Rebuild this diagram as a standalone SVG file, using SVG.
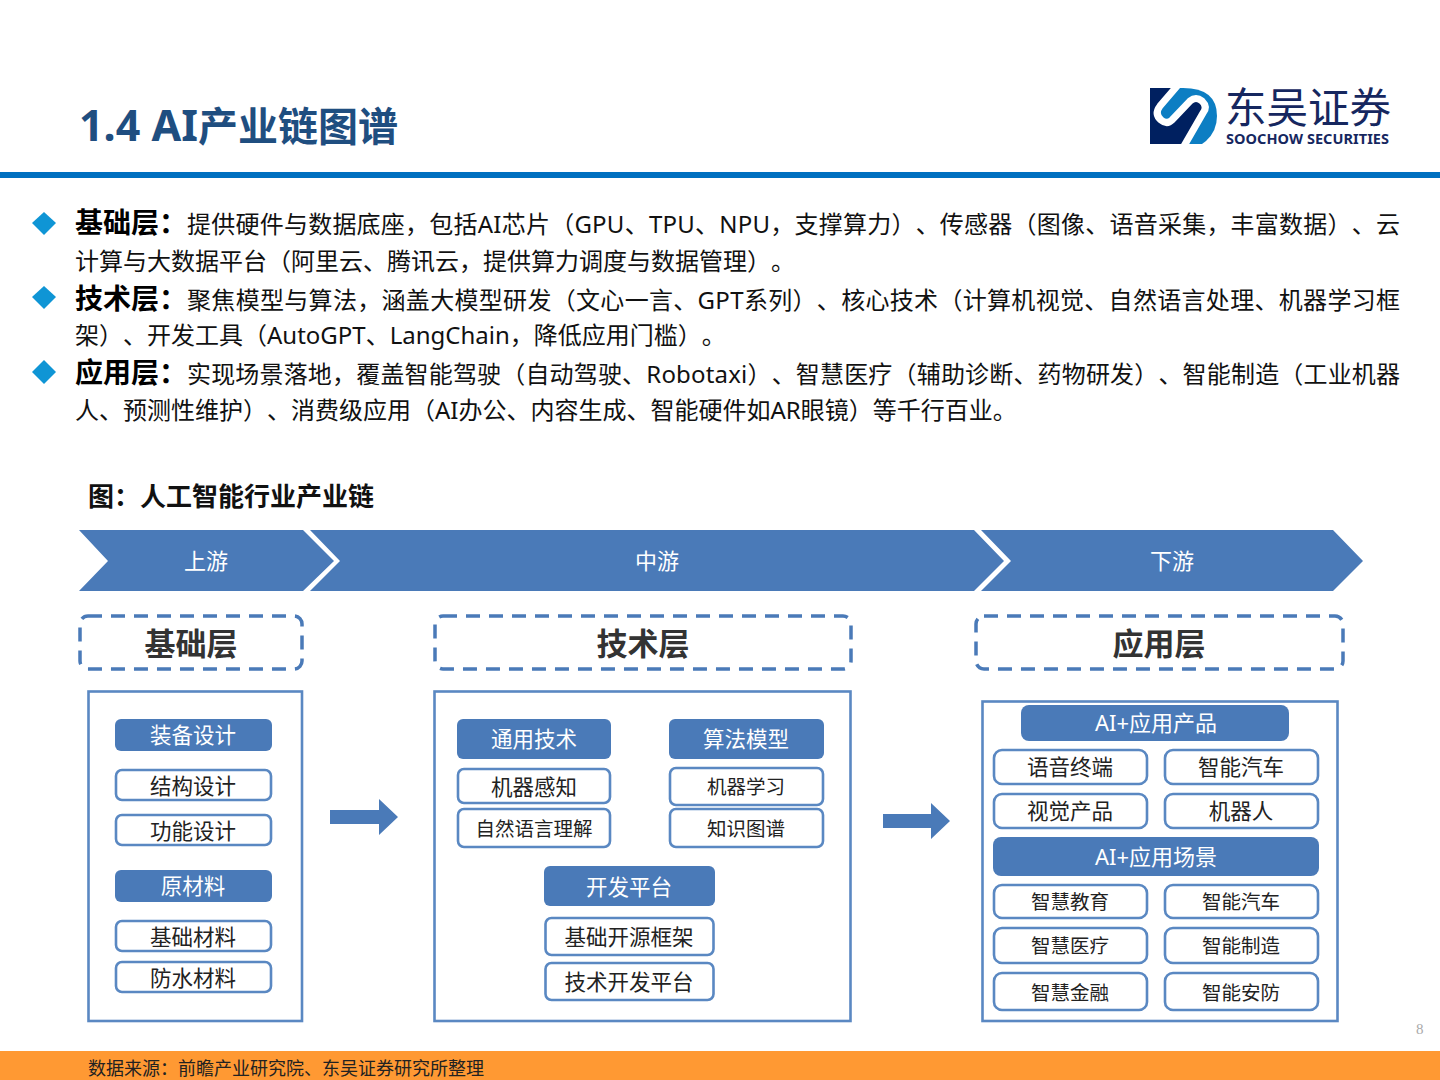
<svg xmlns="http://www.w3.org/2000/svg" width="1440" height="1080" viewBox="0 0 1440 1080">
<style>
text{font-family:"Noto Sans","Noto Sans CJK SC",sans-serif;text-spacing-trim:space-all}
.body{font-size:24px;fill:#111}
.bold{font-size:28px;font-weight:700;fill:#000}
.c{text-anchor:middle}
.head{fill:#4a7ab8}
.box{fill:#fff;stroke:#5a88c2;stroke-width:2.6}
.panel{fill:#fff;stroke:#5a88c2;stroke-width:2.6}
.dash{fill:#fff;stroke:#4a7ab8;stroke-width:3.5;stroke-dasharray:14 9}
.w{fill:#fff;font-size:21.500px}
.s{fill:#fff;font-size:22px}
.k{fill:#222;font-size:21.500px}
.m{fill:#222;font-size:19.500px}
.t{fill:#333;font-size:31px;font-weight:700}
</style>
<rect width="1440" height="1080" fill="#fff"/>
<text x="79" y="141" font-weight="700" fill="#1f4e80"><tspan font-size="43">1.4 AI</tspan><tspan font-size="40">产业链图谱</tspan></text>
<rect y="172" width="1440" height="6" fill="#0070c0"/>
<g id="logo">
<path d="M1150 88H1183Q1217 88 1217 116Q1217 131 1206 141L1202 144H1150Z" fill="#0c7ec3"/>
<path d="M1150 88H1175L1160 106Q1154 114 1161 120Q1167 125 1172 120L1190 101Q1196 96 1202 101Q1208 107 1203 113L1184 144H1150Z" fill="#002060"/>
<path d="M1178 85L1160 106Q1154 114 1161 120Q1167 125 1172 120L1190 101Q1196 96 1202 101Q1208 107 1203 113L1184 146" fill="none" stroke="#fff" stroke-width="7"/>
<text x="1225" y="123" font-size="41.500" fill="#16275f">东吴证券</text>
<text x="1226" y="144" font-size="14.500" font-weight="700" fill="#16275f" textLength="163" lengthAdjust="spacing">SOOCHOW SECURITIES</text>
</g>
<g id="bullets">
<polygon points="44,212 56,223 44,235 32,223" fill="#0f95d5"/>
<polygon points="44,286 56,297 44,309 32,297" fill="#0f95d5"/>
<polygon points="44,360 56,372 44,384 32,372" fill="#0f95d5"/>
<text x="75" y="233" class="bold">基础层：</text><text x="187" y="233" class="body" textLength="1213">提供硬件与数据底座，包括AI芯片（GPU、TPU、NPU，支撑算力）、传感器（图像、语音采集，丰富数据）、云</text>
<text x="75" y="270" class="body">计算与大数据平台（阿里云、腾讯云，提供算力调度与数据管理）。</text>
<text x="75" y="309" class="bold">技术层：</text><text x="187" y="309" class="body" textLength="1213">聚焦模型与算法，涵盖大模型研发（文心一言、GPT系列）、核心技术（计算机视觉、自然语言处理、机器学习框</text>
<text x="75" y="344" class="body">架）、开发工具（AutoGPT、LangChain，降低应用门槛）。</text>
<text x="75" y="383" class="bold">应用层：</text><text x="187" y="383" class="body" textLength="1213">实现场景落地，覆盖智能驾驶（自动驾驶、Robotaxi）、智慧医疗（辅助诊断、药物研发）、智能制造（工业机器</text>
<text x="75" y="419" class="body">人、预测性维护）、消费级应用（AI办公、内容生成、智能硬件如AR眼镜）等千行百业。</text>
</g>
<text x="88" y="506" font-size="26" font-weight="700" fill="#111">图：人工智能行业产业链</text>
<g id="stream-upstream"><polygon class="head" points="79,530 303,530 334,561 303,591 79,591 108,561"/><text class="s c" x="206" y="569">上游</text></g>
<g id="stream-mid"><polygon class="head" points="310,530 974,530 1004,561 974,591 310,591 340,561"/><text class="s c" x="657" y="569">中游</text></g>
<g id="stream-down"><polygon class="head" points="981,530 1333,530 1363,561 1333,591 981,591 1011,561"/><text class="s c" x="1172" y="569">下游</text></g>
<g id="layer-base"><rect class="dash" x="80" y="616" width="222" height="53" rx="8"/><text class="t c" x="191" y="655">基础层</text></g>
<g id="layer-tech"><rect class="dash" x="435" y="616" width="416" height="53" rx="8"/><text class="t c" x="643" y="655">技术层</text></g>
<g id="layer-app"><rect class="dash" x="976" y="616" width="367" height="53" rx="8"/><text class="t c" x="1159" y="655">应用层</text></g>
<g id="panels">
<rect class="panel" x="88.500" y="691.500" width="213.500" height="329.500"/>
<rect class="panel" x="434.500" y="691.500" width="416" height="329.500"/>
<rect class="panel" x="982.500" y="701.500" width="355" height="319.500"/>
</g>
<g id="connectors">
<polygon class="head" points="330,810 379,810 379,799 398,817 379,835 379,824 330,824"/>
<polygon class="head" points="883,814 931,814 931,803 950,821 931,839 931,828 883,828"/>
</g>
<g id="n1"><rect class="head" x="115" y="719" width="157" height="32" rx="6"/><text class="w c" x="193" y="743">装备设计</text></g>
<g id="n2"><rect class="box" x="116" y="770" width="155" height="30" rx="6"/><text class="k c" x="193" y="794">结构设计</text></g>
<g id="n3"><rect class="box" x="116" y="815" width="155" height="30" rx="6"/><text class="k c" x="193" y="839">功能设计</text></g>
<g id="n4"><rect class="head" x="115" y="870" width="157" height="32" rx="6"/><text class="w c" x="193" y="894">原材料</text></g>
<g id="n5"><rect class="box" x="116" y="921" width="155" height="30" rx="6"/><text class="k c" x="193" y="945">基础材料</text></g>
<g id="n6"><rect class="box" x="116" y="962" width="155" height="30" rx="6"/><text class="k c" x="193" y="986">防水材料</text></g>
<g id="n7"><rect class="head" x="457" y="719" width="154" height="40" rx="6"/><text class="w c" x="534" y="747">通用技术</text></g>
<g id="n8"><rect class="head" x="669" y="719" width="155" height="40" rx="6"/><text class="w c" x="746" y="747">算法模型</text></g>
<g id="n9"><rect class="box" x="458" y="769" width="152" height="34" rx="6"/><text class="k c" x="534" y="795">机器感知</text></g>
<g id="n10"><rect class="box" x="670" y="768" width="153" height="37" rx="6"/><text class="m c" x="746" y="794">机器学习</text></g>
<g id="n11"><rect class="box" x="458" y="809" width="152" height="38" rx="6"/><text class="m c" x="534" y="836">自然语言理解</text></g>
<g id="n12"><rect class="box" x="670" y="809" width="153" height="38" rx="6"/><text class="m c" x="746" y="836">知识图谱</text></g>
<g id="n13"><rect class="head" x="544" y="866" width="171" height="40" rx="6"/><text class="w c" x="629" y="895">开发平台</text></g>
<g id="n14"><rect class="box" x="545.500" y="918" width="168" height="37" rx="6"/><text class="k c" x="629" y="945">基础开源框架</text></g>
<g id="n15"><rect class="box" x="545.500" y="963" width="168" height="37" rx="6"/><text class="k c" x="629" y="990">技术开发平台</text></g>
<g id="n16"><rect class="head" x="1021" y="705" width="268" height="36" rx="8"/><text class="s c" x="1156" y="731">AI+应用产品</text></g>
<g id="n17"><rect class="box" x="994" y="750" width="153" height="34" rx="8"/><text class="k c" x="1070" y="775">语音终端</text></g>
<g id="n18"><rect class="box" x="1165" y="750" width="153" height="34" rx="8"/><text class="k c" x="1241" y="775">智能汽车</text></g>
<g id="n19"><rect class="box" x="994" y="794" width="153" height="34" rx="8"/><text class="k c" x="1070" y="819">视觉产品</text></g>
<g id="n20"><rect class="box" x="1165" y="794" width="153" height="34" rx="8"/><text class="k c" x="1241" y="819">机器人</text></g>
<g id="n21"><rect class="head" x="993" y="837" width="326" height="39" rx="8"/><text class="s c" x="1156" y="865">AI+应用场景</text></g>
<g id="n22"><rect class="box" x="994" y="885" width="153" height="33" rx="8"/><text class="m c" x="1070" y="909">智慧教育</text></g>
<g id="n23"><rect class="box" x="1165" y="885" width="153" height="33" rx="8"/><text class="m c" x="1241" y="909">智能汽车</text></g>
<g id="n24"><rect class="box" x="994" y="928" width="153" height="35" rx="8"/><text class="m c" x="1070" y="953">智慧医疗</text></g>
<g id="n25"><rect class="box" x="1165" y="928" width="153" height="35" rx="8"/><text class="m c" x="1241" y="953">智能制造</text></g>
<g id="n26"><rect class="box" x="994" y="973" width="153" height="37" rx="8"/><text class="m c" x="1070" y="1000">智慧金融</text></g>
<g id="n27"><rect class="box" x="1165" y="973" width="153" height="37" rx="8"/><text class="m c" x="1241" y="1000">智能安防</text></g>
<text x="1416" y="1034" font-size="15" fill="#aaa" style="font-family:'Liberation Serif',serif">8</text>
<rect y="1051" width="1440" height="29" fill="#ff9933"/>
<text x="88" y="1075" font-size="18" fill="#222">数据来源：前瞻产业研究院、东吴证券研究所整理</text>
</svg>
